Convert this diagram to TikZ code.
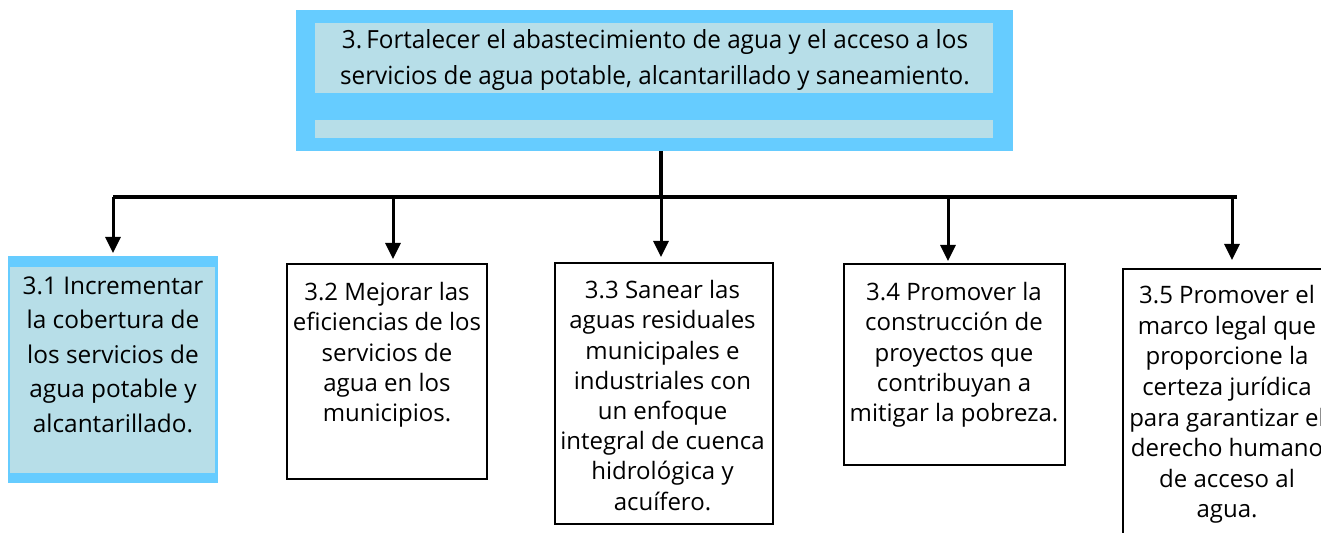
\documentclass[tikz,border=0pt]{standalone}
\usepackage{fontspec}
\setmainfont{Open Sans}
\newfontfamily\narrowfont[FakeStretch=0.97]{Open Sans}
\usetikzlibrary{arrows.meta}
\definecolor{outerblue}{HTML}{66CCFF}
\definecolor{innerblue}{HTML}{B7DEE8}
\tikzset{
  outerbox/.style={fill=outerblue, draw=none, inner sep=0pt, anchor=north west},
  innerbox/.style={fill=innerblue, draw=none, inner sep=0pt, anchor=north west},
  leaf/.style={draw=black, line width=1pt, fill=white, inner sep=0pt, anchor=north west},
  txt/.style={inner sep=0pt, anchor=north, align=center, font=\fontsize{12pt}{15.1pt}\selectfont},
  toptxt/.style={inner sep=0pt, anchor=north, align=center, font=\narrowfont\fontsize{12.5pt}{18pt}\selectfont},
  firsttxt/.style={inner sep=0pt, anchor=north, align=center, font=\fontsize{12.2pt}{17.25pt}\selectfont},
  barline/.style={line width=1.8pt, black},
  drop/.style={line width=1.5pt, black, -{Triangle[width=7.5pt,length=8pt]}},
}
\begin{document}
\begin{tikzpicture}[x=0.5pt,y=-0.5pt]
\useasboundingbox (0,0) rectangle (1321,533);
\clip (0,0) rectangle (1321,533);

% top box
\node[outerbox, minimum width=358.5pt, minimum height=70.5pt] (top) at (296,10) {};
\node[innerbox, minimum width=339pt, minimum height=35pt] (topin) at (315,23) {};
\node[innerbox, minimum width=339pt, minimum height=9pt] (topband) at (315,120) {};
\node[toptxt] (toptext) at (655,29) {3.\,Fortalecer el abastecimiento de agua y el acceso a los\\servicios de agua potable, alcantarillado y saneamiento.};

% 3.1
\node[outerbox, minimum width=105pt, minimum height=113.5pt] (b31) at (8,256) {};
\node[innerbox, minimum width=102.5pt, minimum height=103pt] (b31in) at (10,267) {};
\node[firsttxt] (t31) at (113,276) {3.1 Incrementar\\la cobertura de\\los servicios de\\agua potable y\\alcantarillado.};

% 3.2
\node[leaf, minimum width=100pt, minimum height=107.5pt] (b32) at (286,263) {};
\node[txt] (t32) at (387,282) {3.2 Mejorar las\\eficiencias de los\\servicios de\\agua en los\\municipios.};

% 3.3
\node[leaf, minimum width=109pt, minimum height=130.5pt] (b33) at (554,262) {};
\node[txt] (t33) at (662.5,280) {3.3 Sanear las\\aguas residuales\\municipales e\\industriales con\\un enfoque\\integral de cuenca\\hidrológica y\\acuífero.};

% 3.4
\node[leaf, minimum width=110.5pt, minimum height=100.5pt] (b34) at (843,263) {};
\node[txt] (t34) at (954,282) {3.4 Promover la\\construcción de\\proyectos que\\contribuyan a\\mitigar la pobreza.};

% 3.5
\node[leaf, minimum width=105pt, minimum height=150pt] (b35) at (1122,268) {};
\node[txt, font=\fontsize{12pt}{15.3pt}\selectfont] (t35) at (1227,285) {3.5 Promover el\\marco legal que\\proporcione la\\certeza jurídica\\para garantizar el\\derecho humano\\de acceso al\\agua.};

% connectors
\coordinate (trunk) at (661,151);
\coordinate (hub) at (661,197);
\coordinate (d1) at (113,197);
\coordinate (d2) at (393,197);
\coordinate (d3) at (661,197);
\coordinate (d4) at (948,197);
\coordinate (d5) at (1232,197);
\coordinate (bare) at (1237,197);

\draw[line width=2pt] (trunk) -- (hub);
\draw[barline] (bare) -- (d1);
\draw[drop, shorten >=1.5pt] (d1) -- (d1 |- b31.north);
\draw[drop, shorten >=2pt] (d2) -- (d2 |- b32.north);
\draw[drop, shorten >=2.5pt] (d3) -- (d3 |- b33.north);
\draw[drop, shorten >=1pt] (d4) -- (d4 |- b34.north);
\draw[drop, shorten >=4pt] (d5) -- (d5 |- b35.north);
\end{tikzpicture}
\end{document}
